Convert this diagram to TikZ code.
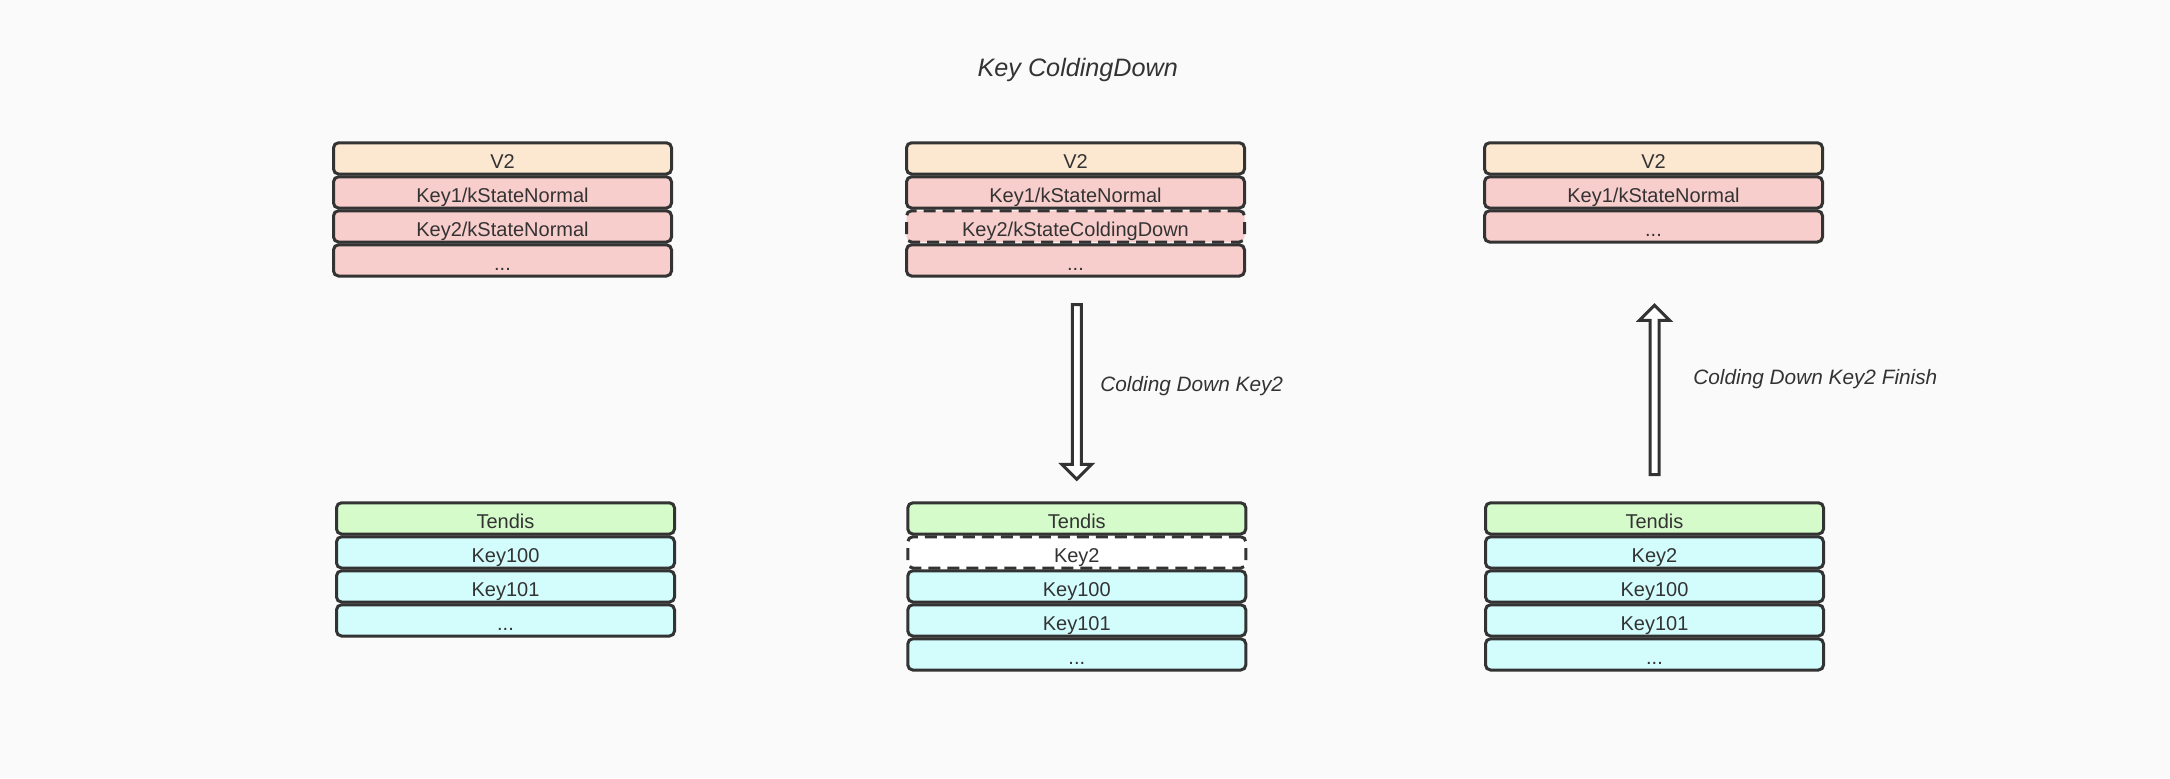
\documentclass[tikz,border=0pt]{standalone}
\usepackage{fontspec}
\setmainfont{Liberation Sans}
\usepackage{xcolor}
\usetikzlibrary{calc}
\definecolor{bgcol}{HTML}{FAFAFA}
\definecolor{edgecol}{HTML}{333333}
\definecolor{verfill}{HTML}{FCE7D0}
\definecolor{keyfill}{HTML}{F8CECC}
\definecolor{tenfill}{HTML}{D5FBCB}
\definecolor{rowfill}{HTML}{D3FDFD}

\begin{document}
\begin{tikzpicture}[x=0.5pt,y=-0.5pt,
  row/.style={draw=edgecol, line width=1.5pt, rounded corners=2.5pt, minimum width=169pt, minimum height=15.6pt, inner sep=0pt, text height=10.7pt, text depth=1pt, font=\fontsize{10pt}{11pt}\selectfont, text=edgecol},
  verrow/.style={row, fill=verfill},
  keyrow/.style={row, fill=keyfill},
  tenrow/.style={row, fill=tenfill},
  datarow/.style={row, fill=rowfill},
  coldrow/.style={dash pattern=on 6pt off 3.5pt},
  blockarrow/.style={draw=edgecol, line width=1.5pt, fill=white, line join=miter},
  note/.style={font=\fontsize{10.4pt}{12pt}\selectfont\itshape, text=edgecol, anchor=west, inner sep=0pt}]

\useasboundingbox[fill=bgcol] (0,0) rectangle (2170,778);

\node[font=\fontsize{12.6pt}{14pt}\selectfont\itshape, text=edgecol] (title) at (1077.8,70) {Key ColdingDown};

% before
\node[verrow] (lv)  at (502.5,158.4) {V2};
\node[keyrow] (lk1) at (502.5,192.4) {Key1/kStateNormal};
\node[keyrow] (lk2) at (502.5,226.4) {Key2/kStateNormal};
\node[keyrow] (lk3) at (502.5,260.4) {...};

\node[tenrow]  (lt)  at (505.5,518.4) {Tendis};
\node[datarow] (ld1) at (505.5,552.4) {Key100};
\node[datarow] (ld2) at (505.5,586.4) {Key101};
\node[datarow] (ld3) at (505.5,620.4) {...};

% colding down
\node[verrow] (mv)  at (1075.5,158.4) {V2};
\node[keyrow] (mk1) at (1075.5,192.4) {Key1/kStateNormal};
\node[keyrow,coldrow] (mk2) at (1075.5,226.4) {Key2/kStateColdingDown};
\node[keyrow] (mk3) at (1075.5,260.4) {...};

\node[tenrow]  (mt)  at (1076.8,518.4) {Tendis};
\node[row,coldrow,fill=white] (md0) at (1076.8,552.4) {Key2};
\node[datarow] (md1) at (1076.8,586.4) {Key100};
\node[datarow] (md2) at (1076.8,620.4) {Key101};
\node[datarow] (md3) at (1076.8,654.4) {...};

% finished
\node[verrow] (rv)  at (1653.5,158.4) {V2};
\node[keyrow] (rk1) at (1653.5,192.4) {Key1/kStateNormal};
\node[keyrow] (rk3) at (1653.5,226.4) {...};

\node[tenrow]  (rt)  at (1654.5,518.4) {Tendis};
\node[datarow] (rd0) at (1654.5,552.4) {Key2};
\node[datarow] (rd1) at (1654.5,586.4) {Key100};
\node[datarow] (rd2) at (1654.5,620.4) {Key101};
\node[datarow] (rd3) at (1654.5,654.4) {...};

% arrows
\coordinate (d0) at ($(mt.north |- mk3.south)+(0,27)$);
\coordinate (d1) at ($(mt.north)+(0,-22)$);
\draw[blockarrow] ($(d0)+(-4.5,0)$) -- ($(d1)+(-4.5,-15)$) -- ($(d1)+(-15,-15)$) -- (d1)
  -- ($(d1)+(15,-15)$) -- ($(d1)+(4.5,-15)$) -- ($(d0)+(4.5,0)$) -- cycle;
\node[note] (dnote) at (1100,385.7) {Colding Down Key2};

\coordinate (u0) at ($(rt.north)+(0,-26.7)$);
\coordinate (u1) at ($(rt.north |- rk3.south)+(0,61.8)$);
\draw[blockarrow] ($(u0)+(-4.5,0)$) -- ($(u1)+(-4.5,15)$) -- ($(u1)+(-15,15)$) -- (u1)
  -- ($(u1)+(15,15)$) -- ($(u1)+(4.5,15)$) -- ($(u0)+(4.5,0)$) -- cycle;
\node[note] (unote) at (1693,379) {Colding Down Key2 Finish};

\end{tikzpicture}
\end{document}
